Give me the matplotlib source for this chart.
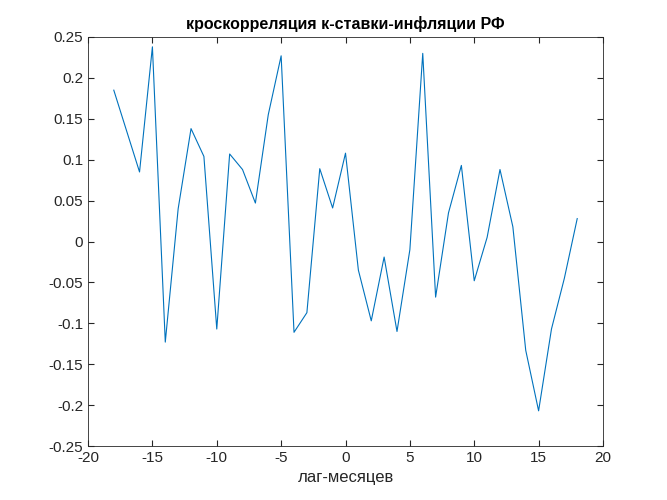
import matplotlib
matplotlib.use("Agg")
import matplotlib.pyplot as plt
import numpy as np

lags = list(range(-18, 19))
values = [0.185, 0.135, 0.085, 0.238, -0.123, 0.04, 0.138, 0.104, -0.107, 0.107,
          0.088, 0.047, 0.155, 0.227, -0.111, -0.087, 0.089, 0.041, 0.108, -0.035,
          -0.097, -0.019, -0.11, -0.01, 0.23, -0.068, 0.035, 0.093, -0.048, 0.005,
          0.088, 0.018, -0.133, -0.207, -0.107, -0.045, 0.028]
xticks = list(range(-20, 21, 5))
yticks = [-0.25, -0.2, -0.15, -0.1, -0.05, 0, 0.05, 0.1, 0.15, 0.2, 0.25]

plt.rcParams['font.family'] = ['Arial', 'Liberation Sans', 'DejaVu Sans']
fig = plt.figure(figsize=(6.67, 5.0), dpi=100)
ax = fig.add_axes([0.132, 0.108, 0.772, 0.818])
ax.plot(lags, values, color='#0072BD', linewidth=0.8)
ax.set_xlim(-20, 20)
ax.set_ylim(-0.25, 0.25)
ax.set_xticks(xticks)
ax.set_xticklabels([str(t) for t in xticks])
ax.set_yticks(yticks)
ax.set_yticklabels([f"{t:g}" for t in yticks])
ax.tick_params(direction='in', top=True, right=True, labelsize=11, colors='#262626', length=4)
for s in ax.spines.values():
    s.set_color('#262626'); s.set_linewidth(0.6)
ax.set_title('кроскорреляция к-ставки-инфляции РФ', fontsize=11.5, fontweight='bold', color='#000000')
ax.set_xlabel('лаг-месяцев', fontsize=12, color='#262626')
fig.savefig('out.png', dpi=100)
